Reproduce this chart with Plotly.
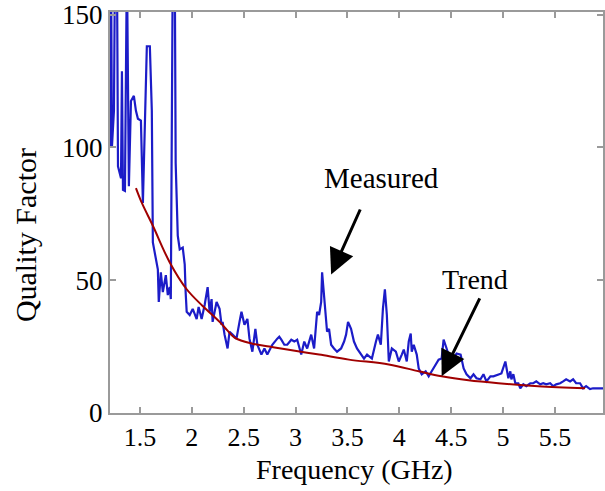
import plotly.graph_objects as go

# Measured quality factor (values above 151 are clipped by the axis range)
freq_measured = [1.212, 1.222, 1.231, 1.250, 1.260, 1.279, 1.289, 1.318, 1.327, 1.337,
                 1.356, 1.375, 1.394, 1.414, 1.442, 1.462, 1.481, 1.510, 1.529, 1.548,
                 1.567, 1.596, 1.615, 1.625, 1.644, 1.673, 1.682, 1.702, 1.721, 1.750,
                 1.769, 1.788, 1.798, 1.817, 1.836, 1.845, 1.865, 1.884, 1.913, 1.932,
                 1.941, 1.951, 1.980, 2.009, 2.028, 2.047, 2.066, 2.076, 2.095, 2.124,
                 2.153, 2.172, 2.191, 2.201, 2.239, 2.268, 2.287, 2.297, 2.316, 2.345,
                 2.364, 2.393, 2.431, 2.460, 2.479, 2.508, 2.536, 2.556, 2.584, 2.613,
                 2.632, 2.671, 2.700, 2.728, 2.776, 2.824, 2.843, 2.863, 2.892, 2.920,
                 2.959, 2.988, 3.016, 3.055, 3.084, 3.112, 3.151, 3.179, 3.208, 3.227,
                 3.247, 3.256, 3.275, 3.295, 3.304, 3.323, 3.343, 3.371, 3.400, 3.439,
                 3.468, 3.487, 3.506, 3.535, 3.563, 3.592, 3.631, 3.660, 3.689, 3.736,
                 3.775, 3.794, 3.822, 3.842, 3.861, 3.880, 3.899, 3.928, 3.967, 3.995,
                 4.024, 4.043, 4.072, 4.091, 4.110, 4.120, 4.139, 4.168, 4.187, 4.216,
                 4.254, 4.283, 4.312, 4.350, 4.379, 4.408, 4.427, 4.456, 4.495, 4.523,
                 4.552, 4.591, 4.620, 4.648, 4.686, 4.715, 4.744, 4.782, 4.811, 4.840,
                 4.878, 4.907, 4.955, 4.984, 5.022, 5.032, 5.051, 5.070, 5.080, 5.099,
                 5.118, 5.147, 5.166, 5.195, 5.224, 5.262, 5.291, 5.320, 5.358, 5.387,
                 5.416, 5.454, 5.483, 5.512, 5.550, 5.579, 5.608, 5.646, 5.675, 5.704,
                 5.742, 5.771, 5.800, 5.838, 5.867, 5.915, 5.963]
q_measured = [100.4, 170, 100.4, 113.8, 170, 170, 92.9, 88.4, 128.7, 84.0,
              83.6, 170, 85.4, 117.5, 119.4, 113.8, 110.8, 110.1, 79.1, 113.8,
              138.1, 138.1, 113.8, 64.2, 60.4, 54.1, 41.8, 53.0, 45.5, 51.9,
              44.4, 47.4, 42.9, 170, 170, 94.0, 66.8, 61.6, 62.3, 56.0,
              45.5, 38.1, 36.9, 39.2, 37.3, 35.4, 39.9, 38.1, 35.4, 40.7,
              47.4, 38.1, 42.9, 34.3, 41.8, 39.2, 33.2, 34.3, 29.5, 24.3,
              30.6, 29.5, 28.0, 34.3, 38.1, 33.2, 35.4, 28.0, 23.1, 31.7,
              25.7, 22.0, 24.3, 22.0, 25.7, 28.0, 28.7, 27.6, 25.7, 25.7,
              27.6, 26.9, 27.6, 22.0, 26.9, 24.3, 29.5, 24.3, 38.1, 36.9,
              41.8, 53.0, 42.9, 33.2, 30.6, 31.7, 25.7, 24.3, 23.1, 24.3,
              26.9, 29.5, 34.3, 31.7, 26.9, 24.3, 22.0, 20.5, 22.0, 20.5,
              26.9, 29.5, 25.7, 39.2, 46.6, 36.9, 19.4, 24.3, 23.1, 19.4,
              22.0, 23.9, 19.4, 26.9, 29.9, 23.1, 25.7, 22.0, 16.8, 14.6,
              15.7, 13.8, 15.7, 18.3, 20.1, 20.5, 27.6, 24.3, 19.4, 20.5,
              22.4, 22.0, 16.8, 14.6, 13.1, 14.6, 13.1, 12.7, 14.6, 11.9,
              13.8, 13.8, 14.6, 14.9, 19.4, 16.8, 13.1, 15.7, 12.7, 14.6,
              11.2, 11.2, 9.3, 10.8, 10.1, 11.2, 11.2, 11.9, 10.8, 11.2,
              10.8, 11.2, 10.1, 10.8, 11.2, 11.9, 12.7, 11.9, 12.7, 11.2,
              11.2, 9.3, 10.1, 9.0, 9.3, 9.3, 9.3]

# Trend curve
freq_trend = [1.462, 1.519, 1.625, 1.788, 1.951, 2.105, 2.268, 2.345, 2.412, 2.584,
              2.748, 2.920, 3.227, 3.515, 3.899, 4.187, 4.408, 4.667, 4.955, 5.339, 5.790]
q_trend = [84.7, 79.1, 70.5, 56.7, 46.6, 40.3, 34.3, 31.0, 28.4, 26.1,
           25.0, 23.9, 22.0, 20.1, 18.3, 15.7, 13.8, 12.3, 11.2, 10.1, 9.3]

x_ticks = [1.5, 2, 2.5, 3, 3.5, 4, 4.5, 5, 5.5]
x_tick_labels = ["1.5", "2", "2.5", "3", "3.5", "4", "4.5", "5", "5.5"]
y_ticks = [0, 50, 100, 150]
y_tick_labels = ["0", "50", "100", "150"]

SERIF = "Liberation Serif, Times New Roman, serif"
AXIS_GREY = "#9a9a9a"
W, H = 605, 491
ML, MR, MT, MB = 110, 0, 8, 78
PW, PH = W - ML - MR, H - MT - MB


def px_to_paper(px, py):
    return (px - ML) / PW, (H - MB - py) / PH


fig = go.Figure()
fig.add_trace(go.Scatter(x=freq_measured, y=q_measured, mode="lines",
                         line=dict(color="rgb(28,28,200)", width=2.2), name="Measured"))
fig.add_trace(go.Scatter(x=freq_trend, y=q_trend, mode="lines",
                         line=dict(color="#a00000", width=2, shape="spline"), name="Trend"))

# Arrows (tail -> head in data coordinates)
fig.add_annotation(x=3.343, y=52.2, ax=3.630, ay=77.2, axref="x", ayref="y",
                   xref="x", yref="y", text="", showarrow=True, arrowhead=2,
                   arrowsize=1.7, arrowwidth=3, arrowcolor="black", standoff=0)
fig.add_annotation(x=4.408, y=13.8, ax=4.782, ay=43.7, axref="x", ayref="y",
                   xref="x", yref="y", text="", showarrow=True, arrowhead=2,
                   arrowsize=1.7, arrowwidth=3, arrowcolor="black", standoff=0)
fig.add_annotation(x=3.832, y=88.4, xref="x", yref="y", text="Measured",
                   xanchor="center", yanchor="middle",
                   showarrow=False, font=dict(family=SERIF, size=29, color="black"))
fig.add_annotation(x=4.725, y=50.4, xref="x", yref="y", text="Trend",
                   xanchor="center", yanchor="middle",
                   showarrow=False, font=dict(family=SERIF, size=28, color="black"))

# Axis titles
yt_x, yt_y = px_to_paper(25, 233)
fig.add_annotation(x=yt_x, y=yt_y, xref="paper", yref="paper",
                   xanchor="center", yanchor="middle",
                   text="Quality Factor", textangle=-90, showarrow=False,
                   font=dict(family=SERIF, size=30, color="black"))
xt_x, xt_y = px_to_paper(355, 470)
fig.add_annotation(x=xt_x, y=xt_y, xref="paper", yref="paper",
                   xanchor="center", yanchor="middle",
                   text="Frequency (GHz)", showarrow=False,
                   font=dict(family=SERIF, size=28, color="black"))

fig.update_layout(
    width=W, height=H,
    margin=dict(l=ML, r=MR, t=MT, b=MB),
    paper_bgcolor="white", plot_bgcolor="white",
    showlegend=False,
    font=dict(family=SERIF, color="black"),
)
fig.update_xaxes(range=[1.212, 5.963], tickvals=x_ticks, ticktext=x_tick_labels,
                 ticks="inside", ticklen=6, tickcolor=AXIS_GREY, tickwidth=1.5,
                 showline=True, linecolor=AXIS_GREY, linewidth=2, mirror="ticks",
                 showgrid=False, zeroline=False, ticklabeloverflow="allow",
                 tickfont=dict(family=SERIF, size=26, color="black"))
fig.update_yaxes(range=[0, 151], tickvals=y_ticks, ticktext=y_tick_labels,
                 ticks="inside", ticklen=6, tickcolor=AXIS_GREY, tickwidth=1.5,
                 showline=True, linecolor=AXIS_GREY, linewidth=2, mirror="ticks",
                 showgrid=False, zeroline=False, ticklabeloverflow="allow",
                 tickfont=dict(family=SERIF, size=27, color="black"))

fig.write_html("out.html")
